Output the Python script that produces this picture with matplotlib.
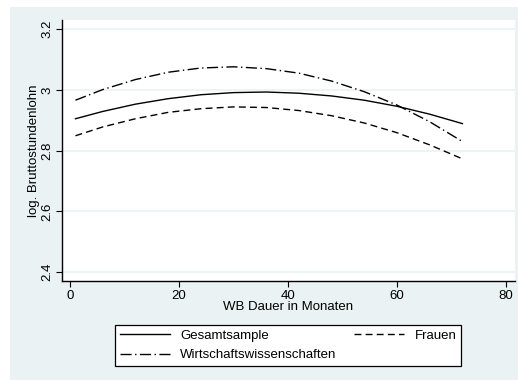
import matplotlib
matplotlib.use("Agg")
import matplotlib.pyplot as plt
from matplotlib.patches import Rectangle

months = [1, 6, 12, 18, 24, 30, 36, 42, 48, 54, 60, 66, 72]
gesamt = [2.905, 2.929, 2.953, 2.971, 2.984, 2.991, 2.993, 2.989, 2.980, 2.966, 2.946, 2.920, 2.889]
frauen = [2.849, 2.878, 2.905, 2.926, 2.938, 2.944, 2.942, 2.932, 2.915, 2.891, 2.859, 2.819, 2.773]
wiwi = [2.966, 3.001, 3.034, 3.058, 3.072, 3.076, 3.070, 3.055, 3.029, 2.994, 2.950, 2.895, 2.830]
xticks = [0, 20, 40, 60, 80]
yticks = [2.4, 2.6, 2.8, 3.0, 3.2]
ytick_labels = ["2.4", "2.6", "2.8", "3", "3.2"]
labels = ["Gesamtsample", "Frauen", "Wirtschaftswissenschaften"]

plt.rcParams['font.family'] = ['Liberation Sans', 'DejaVu Sans']
plt.rcParams['font.size'] = 9.5

W, H = 518, 381
fig = plt.figure(figsize=(W / 100, H / 100), dpi=100, facecolor="white")
bg = "#EAF2F3"
fig.patches.append(Rectangle((10 / W, 1 - 380 / H), (518 - 10) / W, (380 - 7) / H,
                             transform=fig.transFigure, facecolor=bg, edgecolor="none", zorder=-5))

ax = fig.add_axes([62 / W, 1 - 281.3 / H, (515 - 62) / W, (281.3 - 20) / H])
ax.set_zorder(1)
ax.set_facecolor("white")
l1, = ax.plot(months, gesamt, color="black", lw=1.0, ls="-")
l2, = ax.plot(months, frauen, color="black", lw=1.0, ls=(0, (5, 3)))
l3, = ax.plot(months, wiwi, color="black", lw=1.0, ls=(0, (8, 2.5, 1, 2.5)))

ax.set_xlim(-1.47, 81.65)
ax.set_ylim(2.37, 3.23)
ax.set_xticks(xticks)
ax.set_yticks(yticks)
ax.set_yticklabels(ytick_labels, rotation=90, va="center")
ax.grid(axis="y", color=bg, lw=1.2)
ax.set_axisbelow(True)
for s in ["top", "right"]:
    ax.spines[s].set_visible(False)
for s in ["left", "bottom"]:
    ax.spines[s].set_linewidth(1.0)
ax.tick_params(direction="out", length=4, width=0.8, colors="black", labelsize=9.5, pad=2.5)
ax.set_xlabel("WB Dauer in Monaten", fontsize=9.5, labelpad=-1)
ax.set_ylabel("log. Bruttostundenlohn", fontsize=9.5, labelpad=1)

leg = fig.legend([l1, l3, l2], [labels[0], labels[2], labels[1]], ncol=2,
                 loc="lower left", mode="expand",
                 bbox_to_anchor=(115 / W, 1 - 366 / H, (461 - 115) / W, (366 - 323) / H),
                 frameon=True, fancybox=False, edgecolor="black", facecolor="white",
                 framealpha=1, fontsize=9.5, handlelength=3.8, handletextpad=0.8,
                 borderpad=0.35, labelspacing=0.55, borderaxespad=0)
leg.get_frame().set_linewidth(0.9)
leg.set_zorder(2)

fig.savefig("out.png", dpi=100, facecolor="white")
